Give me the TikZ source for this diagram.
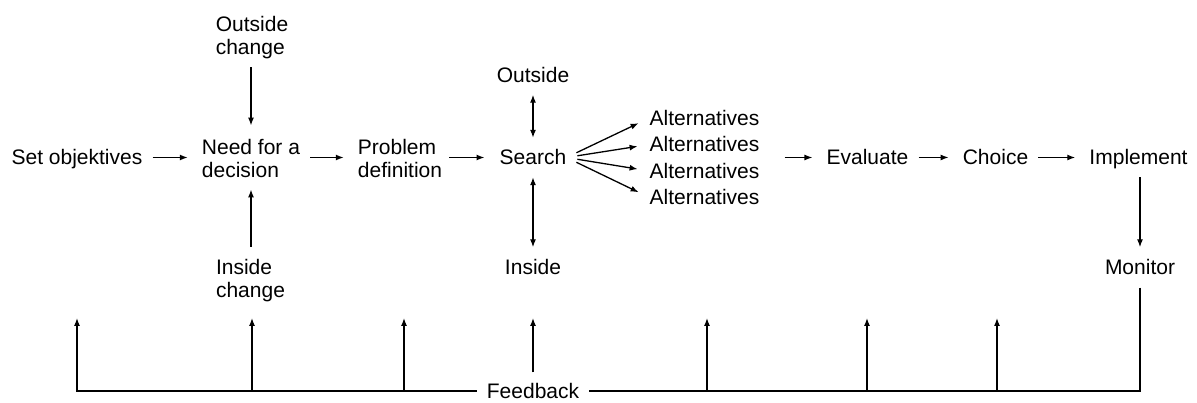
\documentclass[tikz,border=0pt]{standalone}
\usepackage{fontspec}
\setmainfont{Liberation Sans}
\usetikzlibrary{arrows.meta}
\begin{document}
\begin{tikzpicture}[x=1pt,y=-1pt,
  lbl/.style={font=\fontsize{21}{23}\selectfont, inner sep=0pt},
  one/.style={lbl, text height=15pt, text depth=0pt},
  two/.style={lbl, align=left},
  ln/.style={line width=1.3pt},
  arr/.style={ln, -{Latex[length=8pt,width=6pt]}},
  biarr/.style={ln, {Latex[length=8pt,width=6pt]}-{Latex[length=8pt,width=6pt]}},
  hgap/.style={shorten <=10pt, shorten >=14pt},
  vgap/.style={shorten <=12pt, shorten >=12pt}]
\useasboundingbox (0,0) rectangle (1197,403);

% main row
\node[one] (set)    at (77,157.5)    {Set objektives};
\node[two] (need)   at (251,158)     {Need for a\\decision};
\node[two] (prob)   at (400,158)     {Problem\\definition};
\node[one] (search) at (533,157.5)   {Search};
\node[one] (alt1)   at (704.5,118)   {Alternatives};
\node[one] (alt2)   at (704.5,144.5) {Alternatives};
\node[one] (alt3)   at (704.5,171)   {Alternatives};
\node[one] (alt4)   at (704.5,197.5) {Alternatives};
\node[one] (eval)   at (867.5,157.5) {Evaluate};
\node[one] (choice) at (995.5,157.5) {Choice};
\node[one] (impl)   at (1138.5,157.5) {Implement};

% side inputs
\node[two] (oc)  at (252,38)    {Outside\\change};
\node[two] (ic)  at (250.5,281) {Inside\\change};
\node[one] (out) at (533,75)    {Outside};
\node[one] (in)  at (533,267)   {Inside};
\node[one] (mon) at (1140,267)  {Monitor};
\node[one] (fb)  at (533,391)   {Feedback};

% main flow
\draw[arr, hgap] (set.east) -- (set.east -| need.west);
\draw[arr, hgap] (need.east |- search.west) -- (prob.west |- search.west);
\draw[arr, shorten <=7pt, shorten >=15pt] (prob.east |- search.west) -- (search.west);
\foreach \a in {alt1,alt2,alt3,alt4}
  \draw[arr, shorten <=11pt, shorten >=12pt] (search.east) -- (\a.west);
\draw[arr, shorten <=25pt, shorten >=14pt] (alt2.east |- eval.west) -- (eval.west);
\draw[arr, hgap] (eval.east) -- (choice.west);
\draw[arr, hgap] (choice.east) -- (impl.west);

% vertical links
\draw[arr, shorten <=8pt, shorten >=13pt] (oc.south -| need.north) -- (need.north);
\draw[arr, shorten <=13pt, shorten >=12pt] (ic.north -| need.south) -- (need.south);
\draw[biarr, vgap] (out) -- (search);
\draw[biarr, vgap] (search) -- (in);
\draw[arr, vgap] (impl.south -| mon.north) -- (mon.north);

% feedback loop
\coordinate (t1) at (77,318);
\coordinate (t2) at (252,318);
\coordinate (t3) at (404,318);
\coordinate (t4) at (533,318);
\coordinate (t5) at (707,318);
\coordinate (t6) at (867,318);
\coordinate (t7) at (997,318);
\draw[ln, shorten <=13pt, shorten >=10pt] (mon.south) -- (mon.south |- fb.east) -- (fb.east);
\draw[arr, shorten <=10pt] (fb.west) -- (t1 |- fb.west) -- (t1);
\foreach \t in {t2,t3,t5,t6,t7}
  \draw[arr] (\t |- fb.center) -- (\t);
\draw[arr, shorten <=11pt] (fb.north) -- (t4);
\end{tikzpicture}
\end{document}
